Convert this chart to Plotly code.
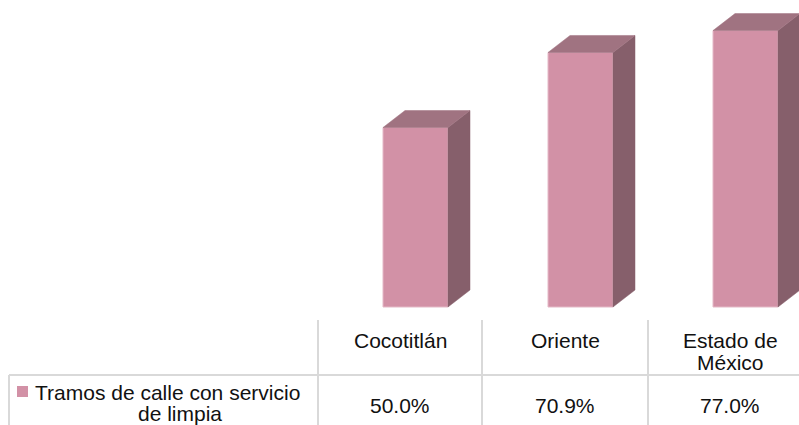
import plotly.graph_objects as go

# Data
categories = ["Cocotitlán", "Oriente", "Estado de México"]
header_lines = [["Cocotitlán"], ["Oriente"], ["Estado de", "México"]]
values = [50.0, 70.9, 77.0]
value_labels = ["50.0%", "70.9%", "77.0%"]
series_lines = ["Tramos de calle con servicio", "de limpia"]

# Canvas / scale setup
W, H = 799, 425
COL_W = 165.0          # pixels per category column
COL0_PX = 400.0        # pixel centre of first column
Y0_PX = 307.0          # pixel row of the value 0
PX_PER_UNIT = 3.59     # pixels per percentage point

x_range = [-COL0_PX / COL_W, (W - COL0_PX) / COL_W]
y_range = [-(H - Y0_PX) / PX_PER_UNIT, Y0_PX / PX_PER_UNIT]

# 3D bar geometry (in axis units)
bar_off = -17 / COL_W
bar_w = 65 / COL_W
dx = 22 / COL_W
dy = 17 / PX_PER_UNIT

FRONT = "#D291A6"
SIDE = "#865F6B"
TOP = "#A07381"
GRID = "#D9D9D9"
FONT = "Liberation Sans, Arial, sans-serif"
FS = 21

fig = go.Figure()

# Side and top faces of each bar
for i, v in enumerate(values):
    x0 = i + bar_off
    x1 = x0 + bar_w
    fig.add_trace(go.Scatter(
        x=[x1, x1 + dx, x1 + dx, x1, x1],
        y=[0, dy, v + dy, v, 0],
        fill="toself", fillcolor=SIDE, mode="lines",
        line=dict(color=SIDE, width=0.5), hoverinfo="skip", showlegend=False))
    fig.add_trace(go.Scatter(
        x=[x0, x1, x1 + dx, x0 + dx, x0],
        y=[v, v, v + dy, v + dy, v],
        fill="toself", fillcolor=TOP, mode="lines",
        line=dict(color=TOP, width=0.5), hoverinfo="skip", showlegend=False))

# Front faces
fig.add_trace(go.Bar(
    x=list(range(len(values))), y=values, base=0,
    offset=bar_off, width=bar_w,
    marker=dict(color=FRONT, line=dict(color="#E4B9C7", width=1)),
    hoverinfo="skip", showlegend=False))

def px(x):
    return x / W

def py(y):
    return 1 - y / H

shapes = []
line_style = dict(color=GRID, width=2)
# Table grid
header_top, row_split = 320, 375
for xp in [318, 482, 648]:
    shapes.append(dict(type="line", xref="paper", yref="paper",
                       x0=px(xp), x1=px(xp), y0=py(header_top), y1=py(H),
                       line=line_style))
shapes.append(dict(type="line", xref="paper", yref="paper",
                   x0=px(9), x1=1, y0=py(row_split), y1=py(row_split),
                   line=line_style))
shapes.append(dict(type="line", xref="paper", yref="paper",
                   x0=px(9), x1=px(9), y0=py(row_split), y1=py(H),
                   line=line_style))
# Legend key
shapes.append(dict(type="rect", xref="paper", yref="paper",
                   x0=px(17), x1=px(28), y0=py(397), y1=py(386),
                   fillcolor=FRONT, line=dict(width=0)))

annotations = []
def text(x, y, s, xref="paper", xanchor="center"):
    annotations.append(dict(x=x, y=py(y), xref=xref, yref="paper", text=s,
                            showarrow=False, xanchor=xanchor, yanchor="middle",
                            font=dict(family=FONT, size=FS, color="#111111")))

# Header row and value row
for i, lines in enumerate(header_lines):
    if len(lines) == 1:
        text(i, 340, lines[0], xref="x")
    else:
        text(i, 340, lines[0], xref="x")
        text(i, 362, lines[1], xref="x")
for i, lab in enumerate(value_labels):
    text(i, 405, lab, xref="x")

# Series label
text(px(33), 392, series_lines[0], xanchor="left")
text(px(180), 413, series_lines[1])

fig.update_layout(
    width=W, height=H,
    margin=dict(l=0, r=0, t=0, b=0),
    paper_bgcolor="white", plot_bgcolor="white",
    xaxis=dict(range=x_range, visible=False, fixedrange=True),
    yaxis=dict(range=y_range, visible=False, fixedrange=True),
    shapes=shapes, annotations=annotations,
    barmode="overlay",
)

fig.write_html("out.html")
